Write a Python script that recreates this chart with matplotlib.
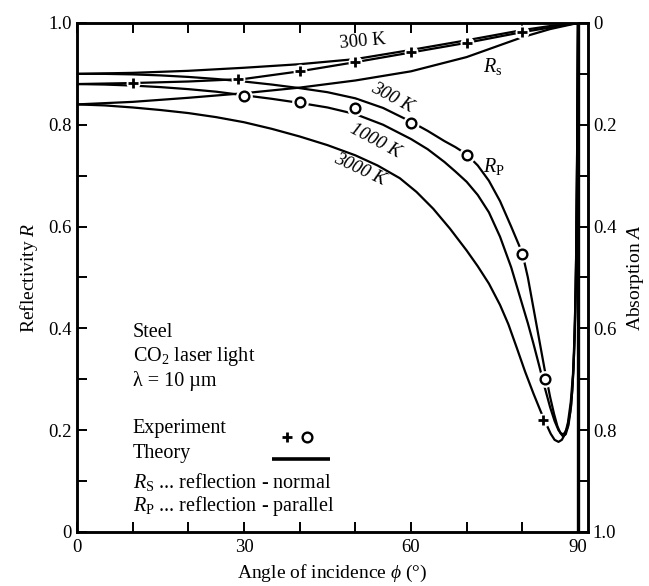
import matplotlib
matplotlib.use("Agg")
import matplotlib.pyplot as plt

plt.rcParams['font.family'] = ['Liberation Serif', 'DejaVu Serif']
plt.rcParams['mathtext.fontset'] = 'custom'
plt.rcParams['mathtext.rm'] = 'Liberation Serif'
plt.rcParams['mathtext.it'] = 'Liberation Serif:italic'

# ---- theory curves: angle of incidence (deg) vs reflectivity ----
rs_300_ang = [0, 10, 20, 30, 40, 50, 60, 70, 80, 85, 90]
rs_300_val = [0.900, 0.902, 0.906, 0.912, 0.919, 0.929, 0.947, 0.966, 0.986, 0.994, 1.0]

rs_exp_ang = [0, 10, 20, 30, 40, 50, 60, 70, 80, 90]
rs_exp_val = [0.880, 0.882, 0.885, 0.890, 0.905, 0.923, 0.942, 0.961, 0.982, 1.0]

rs_hot_ang = [0, 10, 20, 30, 40, 50, 60, 70, 80, 85, 90]
rs_hot_val = [0.840, 0.845, 0.853, 0.862, 0.873, 0.887, 0.905, 0.933, 0.972, 0.988, 1.0]

rp_300_ang = [0, 5, 10, 15, 20, 25, 30, 35, 40, 45, 50, 55, 60, 63, 66, 68, 70, 72,
              74, 76, 78, 80, 81, 82, 83, 84, 85, 85.7, 86.3, 86.8, 87.3, 87.8, 88.3,
              88.8, 89.2, 89.5, 89.7, 89.85, 90]
rp_300_val = [0.900, 0.900, 0.899, 0.897, 0.894, 0.890, 0.885, 0.879, 0.872, 0.864,
              0.852, 0.833, 0.806, 0.788, 0.768, 0.756, 0.742, 0.720, 0.690, 0.650,
              0.600, 0.548, 0.500, 0.440, 0.380, 0.320, 0.265, 0.232, 0.208, 0.195,
              0.188, 0.192, 0.210, 0.250, 0.320, 0.420, 0.560, 0.750, 1.0]

rp_1000_ang = [0, 5, 10, 15, 20, 25, 30, 35, 40, 45, 50, 55, 60, 63, 66, 68, 70, 72,
               74, 76, 78, 79.5, 81, 82, 83, 84, 85, 85.8, 86.5, 87.1, 87.6, 88.1,
               88.6, 89.0, 89.3, 89.6, 89.8, 90]
rp_1000_val = [0.880, 0.879, 0.877, 0.874, 0.870, 0.865, 0.858, 0.851, 0.843, 0.834,
               0.821, 0.800, 0.772, 0.752, 0.727, 0.708, 0.688, 0.662, 0.628, 0.580,
               0.520, 0.465, 0.410, 0.370, 0.328, 0.285, 0.245, 0.218, 0.200, 0.192,
               0.194, 0.205, 0.235, 0.280, 0.350, 0.480, 0.680, 1.0]

rp_3000_ang = [0, 5, 10, 15, 20, 25, 30, 35, 40, 45, 50, 54, 58, 61, 64, 67, 70, 72,
               74, 76, 77.5, 79, 80.5, 82, 83.3, 84.3, 85.1, 85.8, 86.5, 87.1, 87.7,
               88.2, 88.7, 89.1, 89.4, 89.65, 89.85, 90]
rp_3000_val = [0.840, 0.838, 0.834, 0.829, 0.823, 0.815, 0.805, 0.792, 0.777, 0.760,
               0.740, 0.720, 0.695, 0.668, 0.635, 0.596, 0.553, 0.522, 0.488, 0.446,
               0.408, 0.362, 0.315, 0.272, 0.237, 0.212, 0.193, 0.181, 0.177, 0.181,
               0.193, 0.215, 0.255, 0.310, 0.390, 0.520, 0.730, 1.0]

# ---- experimental points ----
plus_ang = [10, 29, 40, 50, 60, 70, 80, 83.7]
plus_val = [0.882, 0.890, 0.905, 0.923, 0.942, 0.961, 0.982, 0.220]
circ_ang = [30, 40, 50, 60, 70, 80, 84]
circ_val = [0.857, 0.845, 0.833, 0.804, 0.741, 0.547, 0.300]

x_major = [0, 30, 60, 90]
y_major = [0, 0.2, 0.4, 0.6, 0.8, 1.0]
y_labels = ['0', '0.2', '0.4', '0.6', '0.8', '1.0']

fig = plt.figure(figsize=(6.49, 5.86), dpi=100)
ax = fig.add_axes([0.1186, 0.0922, 0.7874, 0.8686])
ax.set_xlim(0, 91.8)
ax.set_ylim(0, 1)

lw = 1.6
for a, v in [(rs_300_ang, rs_300_val), (rs_exp_ang, rs_exp_val), (rs_hot_ang, rs_hot_val),
             (rp_300_ang, rp_300_val), (rp_1000_ang, rp_1000_val), (rp_3000_ang, rp_3000_val)]:
    ax.plot(a, v, color='black', lw=lw, zorder=2, solid_joinstyle='round')

ax.axvline(90, color='black', lw=2.4, zorder=2)

# white halo so markers break the lines they sit on
ax.plot(plus_ang, plus_val, linestyle='none', marker='o', ms=9, mfc='white', mec='white', zorder=3)
ax.plot(plus_ang, plus_val, linestyle='none', marker='+', ms=7, mew=2.0, color='black', zorder=4)
ax.plot(circ_ang, circ_val, linestyle='none', marker='o', ms=11, mfc='white', mec='white', zorder=3)
ax.plot(circ_ang, circ_val, linestyle='none', marker='o', ms=7, mfc='white', mec='black', mew=1.7, zorder=4)

# axes styling
for s in ax.spines.values():
    s.set_linewidth(1.8)
ax.set_xticks(x_major)
ax.set_xticks(range(0, 91, 10), minor=True)
ax.set_yticks(y_major)
ax.set_yticklabels(y_labels)
ax.set_yticks([i / 10 for i in range(11)], minor=True)
ax.tick_params(which='both', direction='in', length=7, width=1.4, top=True, right=False,
               labelsize=13.5, colors='black')
ax.tick_params(axis='x', pad=5)

ax2 = ax.twinx()
ax2.set_ylim(1, 0)
ax2.set_yticks(y_major)
ax2.set_yticklabels(y_labels)
ax2.set_yticks([i / 10 for i in range(11)], minor=True)
ax2.tick_params(which='both', direction='in', length=7, width=1.4, labelsize=13.5)
for s in ax2.spines.values():
    s.set_linewidth(1.8)

ax.set_ylabel(r'Reflectivity $R$', fontsize=14, labelpad=6)
ax2.set_ylabel(r'Absorption $A$', fontsize=14, labelpad=6)
ax.set_xlabel(r'Angle of incidence $\phi$ (°)', fontsize=14, labelpad=5)

# curve labels
ax.text(51.4, 0.963, '300 K', fontsize=13.5, ha='center', va='center', rotation=5)
ax.text(74.7, 0.914, r'$R_{\mathrm{s}}$', fontsize=14.5, ha='center', va='center')
ax.text(56.6, 0.853, '300 K', fontsize=13.5, ha='center', va='center', rotation=-28, style='italic')
ax.text(53.5, 0.768, '1000 K', fontsize=13.5, ha='center', va='center', rotation=-28, style='italic')
ax.text(50.8, 0.712, '3000 K', fontsize=13.5, ha='center', va='center', rotation=-25, style='italic')
ax.text(74.9, 0.719, r'$R_{\mathrm{P}}$', fontsize=14.5, ha='center', va='center')

# description block
tx = 10.0
fs = 14.5
ax.text(tx, 0.391, 'Steel', fontsize=fs, va='center')
ax.text(tx, 0.344, r'CO$_2$ laser light', fontsize=fs, va='center')
ax.text(tx, 0.297, 'λ = 10 µm', fontsize=fs, va='center')
ax.text(tx, 0.204, 'Experiment', fontsize=fs, va='center')
ax.text(tx, 0.155, 'Theory', fontsize=fs, va='center')
ax.text(tx, 0.098, r'$R_{\mathrm{S}}$ ... reflection - normal', fontsize=fs, va='center')
ax.text(tx, 0.051, r'$R_{\mathrm{P}}$ ... reflection - parallel', fontsize=fs, va='center')
ax.plot([37.7], [0.187], linestyle='none', marker='+', ms=7, mew=2.0, color='black')
ax.plot([41.3], [0.187], linestyle='none', marker='o', ms=7, mfc='white', mec='black', mew=1.7)
ax.plot([35.0, 45.4], [0.143, 0.143], color='black', lw=2.6, solid_capstyle='butt')

fig.savefig('out.png', dpi=100, facecolor='white')
